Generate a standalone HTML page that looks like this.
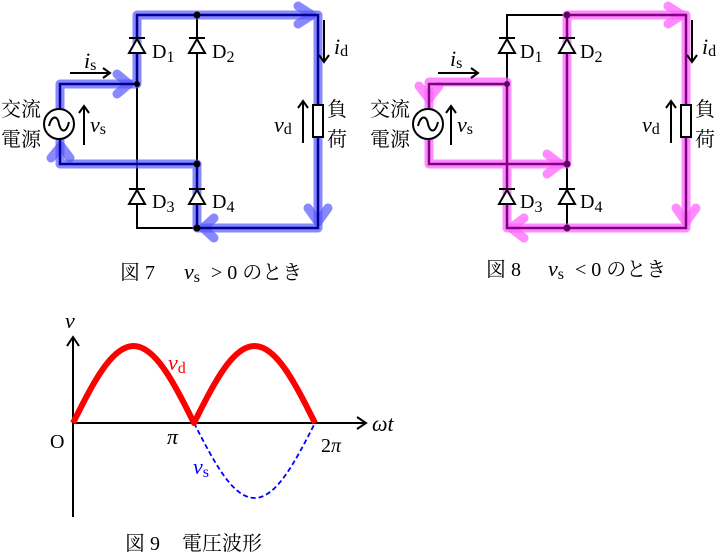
<!DOCTYPE html>
<html><head><meta charset="utf-8"><style>
html,body{margin:0;padding:0;background:#fff;}
svg{display:block}
.jp{font-family:"Liberation Serif","Noto Serif CJK SC","Noto Sans CJK JP",serif;font-size:20px;fill:#000}
.m{font-family:"Liberation Serif",serif;font-style:italic;font-size:22px}
.r{font-family:"Liberation Serif",serif;font-size:20px}
.s{font-family:"Liberation Serif",serif;font-size:16px;font-style:normal}
</style></head><body>
<svg width="717" height="554" viewBox="0 0 717 554" xmlns="http://www.w3.org/2000/svg">
<defs>
<g id="diode">
<line x1="-8" y1="0" x2="8" y2="0" stroke="#000" stroke-width="2"/>
<polygon points="0,1 -8,15 8,15" fill="#fff" stroke="#000" stroke-width="2"/>
</g>
</defs>

<!-- ===== Figure 7 ===== -->
<g stroke="#000" stroke-width="2" fill="none">
<polyline points="137,84 137,15 318,15 318,228 137,228 137,84"/>
<line x1="197" y1="15" x2="197" y2="228"/>
<polyline points="60,109 60,84 137,84"/>
<polyline points="60,138 60,164 197,164"/>
</g>
<g stroke="#5555ff" stroke-opacity="0.7" stroke-width="9" fill="none" stroke-linecap="round" stroke-linejoin="round">
<polyline points="60,137 60,84 137,84 137,15 318,15 318,228 197,228 197,164 60,164 60,140"/>
<polyline points="117,74 129,84 117,94"/>
<polyline points="298,6 312,15 298,24"/>
<polyline points="308,208 318,222 328,208"/>
<polyline points="214,218 203,228 214,238"/>
<polyline points="51,158 61,146 70,158"/>
</g>
<g stroke="#000090" stroke-width="2.5" fill="none">
<polyline points="60,109 60,84 137,84 137,15 318,15 318,228 197,228 197,164 60,164 60,138"/>
</g>
<g fill="#000"><circle cx="137" cy="84" r="3"/><circle cx="197" cy="15" r="3.5"/><circle cx="197" cy="164" r="3.5"/><circle cx="197" cy="228" r="3.5"/></g>
<use href="#diode" x="137" y="38"/><use href="#diode" x="197" y="38"/>
<use href="#diode" x="137" y="189"/><use href="#diode" x="197" y="189"/>
<circle cx="59" cy="124" r="15" fill="#fff" stroke="#000" stroke-width="2"/>
<path d="M49,126 C52,114 58,116 59,124 C61,132 66,134 69,122" fill="none" stroke="#000" stroke-width="2"/>
<rect x="313" y="105" width="10" height="32" fill="#fff" stroke="#000" stroke-width="2"/>
<g stroke="#000" stroke-width="2" fill="none">
<line x1="70" y1="73" x2="109" y2="73"/><polyline points="103,68 110,73 103,78"/>
<line x1="84" y1="145" x2="84" y2="107"/><polyline points="79,113 84,106 89,113"/>
<line x1="303" y1="143" x2="303" y2="102"/><polyline points="298,108 303,101 308,108"/>
<line x1="324" y1="20" x2="324" y2="61"/><polyline points="319,55 324,62 329,55"/>
</g>
<g class="r">
<text x="152" y="58">D<tspan class="s" dy="4">1</tspan></text>
<text x="212" y="58">D<tspan class="s" dy="4">2</tspan></text>
<text x="152" y="208">D<tspan class="s" dy="4">3</tspan></text>
<text x="212" y="208">D<tspan class="s" dy="4">4</tspan></text>
</g>
<text class="m" x="84" y="68">i<tspan class="s" dy="2">s</tspan></text>
<text class="m" x="90" y="132">v<tspan class="s" dy="2">s</tspan></text>
<text class="m" x="274" y="132">v<tspan class="s" dy="2">d</tspan></text>
<text class="m" x="334" y="54">i<tspan class="s" dy="2">d</tspan></text>
<text class="jp" x="1" y="116">交流</text><text class="jp" x="1" y="146">電源</text>
<text class="jp" x="327" y="116">負</text><text class="jp" x="327" y="146">荷</text>
<text class="jp" x="120" y="279">図 7</text>
<text class="m" x="184" y="279">v<tspan class="s" dy="3">s</tspan></text>
<text class="jp" x="211" y="279">&gt; 0 のとき</text>

<!-- ===== Figure 8 ===== -->
<g stroke="#000" stroke-width="2" fill="none">
<polyline points="507,84 507,15 686,15 686,228 507,228 507,84"/>
<line x1="567" y1="15" x2="567" y2="228"/>
<polyline points="429,109 429,84 507,84"/>
<polyline points="429,138 429,164 567,164"/>
</g>
<g stroke="#ff66ff" stroke-opacity="0.75" stroke-width="9" fill="none" stroke-linecap="round" stroke-linejoin="round">
<polyline points="429,108 429,82 507,82 507,228 686,228 686,15 567,15 567,164 429,164 429,140"/>
<polyline points="419,86 429,99 439,86"/>
<polyline points="547,154 560,164 547,174"/>
<polyline points="524,218 511,228 524,238"/>
<polyline points="676,208 686,222 696,208"/>
<polyline points="668,6 682,15 668,24"/>
</g>
<g stroke="#800080" stroke-width="2.5" fill="none">
<polyline points="429,109 429,84 507,84 507,228 686,228 686,15 567,15 567,164 429,164 429,138"/>
</g>
<g fill="#600060"><circle cx="507" cy="84" r="3"/><circle cx="567" cy="15" r="3.5"/><circle cx="567" cy="164" r="3.5"/><circle cx="567" cy="228" r="3.5"/></g>
<use href="#diode" x="507" y="38"/><use href="#diode" x="567" y="38"/>
<use href="#diode" x="507" y="189"/><use href="#diode" x="567" y="189"/>
<circle cx="428" cy="124" r="15" fill="#fff" stroke="#000" stroke-width="2"/>
<path d="M418,126 C421,114 427,116 428,124 C430,132 435,134 438,122" fill="none" stroke="#000" stroke-width="2"/>
<rect x="681" y="105" width="10" height="32" fill="#fff" stroke="#000" stroke-width="2"/>
<g stroke="#000" stroke-width="2" fill="none">
<line x1="438" y1="73" x2="477" y2="73"/><polyline points="471,68 478,73 471,78"/>
<line x1="451" y1="145" x2="451" y2="107"/><polyline points="446,113 451,106 456,113"/>
<line x1="671" y1="143" x2="671" y2="102"/><polyline points="666,108 671,101 676,108"/>
<line x1="692" y1="20" x2="692" y2="61"/><polyline points="687,55 692,62 697,55"/>
</g>
<g class="r">
<text x="520" y="58">D<tspan class="s" dy="4">1</tspan></text>
<text x="580" y="58">D<tspan class="s" dy="4">2</tspan></text>
<text x="520" y="208">D<tspan class="s" dy="4">3</tspan></text>
<text x="580" y="208">D<tspan class="s" dy="4">4</tspan></text>
</g>
<text class="m" x="450" y="66">i<tspan class="s" dy="2">s</tspan></text>
<text class="m" x="457" y="132">v<tspan class="s" dy="2">s</tspan></text>
<text class="m" x="642" y="132">v<tspan class="s" dy="2">d</tspan></text>
<text class="m" x="702" y="54">i<tspan class="s" dy="2">d</tspan></text>
<text class="jp" x="370" y="116">交流</text><text class="jp" x="370" y="146">電源</text>
<text class="jp" x="695" y="116">負</text><text class="jp" x="695" y="146">荷</text>
<text class="jp" x="486" y="276">図 8</text>
<text class="m" x="548" y="276">v<tspan class="s" dy="3">s</tspan></text>
<text class="jp" x="575" y="276">&lt; 0 のとき</text>

<!-- ===== Figure 9 ===== -->
<g stroke="#000" stroke-width="2" fill="none">
<line x1="73" y1="517" x2="73" y2="338"/><polyline points="67,346 73,337 79,346"/>
<line x1="73" y1="423" x2="365" y2="423"/><polyline points="357,417 366,423 357,429"/>
</g>
<path d="M194,423 C214.2,462.4 232.7,498 254.5,498 C276.3,498 294.8,462.4 315,423" fill="none" stroke="#0000ff" stroke-width="1.8" stroke-dasharray="5,3"/>
<path d="M73,423 C93.2,382.6 111.7,346 133.5,346 C155.3,346 173.8,382.6 194,423 C214.2,382.6 232.7,346 254.5,346 C276.3,346 294.8,382.6 315,423" fill="none" stroke="#ff0000" stroke-width="6" stroke-linejoin="round"/>
<text class="m" x="65" y="328">v</text>
<text class="r" x="50" y="448" font-size="22">O</text>
<text class="m" x="167" y="444">π</text>
<text class="r" x="321" y="452" font-size="22">2<tspan font-style="italic">π</tspan></text>
<text class="m" x="372" y="431">ωt</text>
<text class="m" x="168" y="370" fill="#ff0000">v<tspan class="s" dy="3">d</tspan></text>
<text class="m" x="193" y="474" fill="#0000ff">v<tspan class="s" dy="3">s</tspan></text>
<text class="jp" x="125" y="550">図 9</text>
<text class="jp" x="182" y="550">電圧波形</text>
</svg>
</body></html>
